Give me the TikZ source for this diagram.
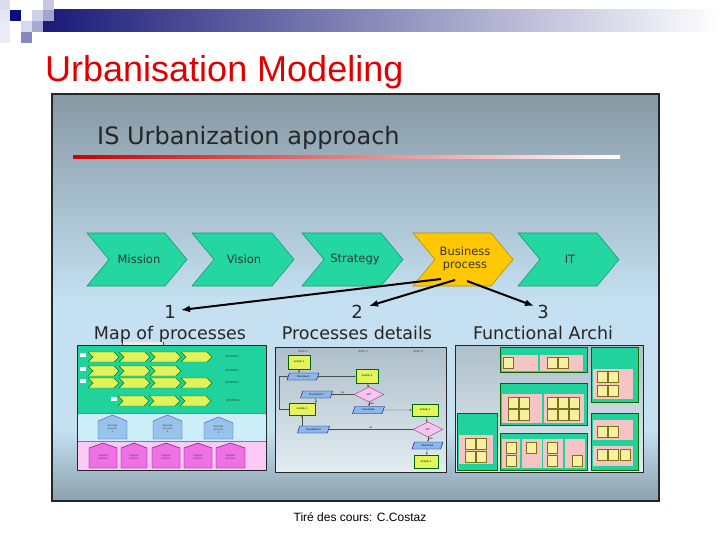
\documentclass[tikz,border=0pt]{standalone}
\usepackage{fontspec}
\setmainfont{Liberation Sans}
\newfontfamily\vfont{DejaVu Sans}
\usetikzlibrary{shapes.geometric,arrows.meta}
\definecolor{navyH}{HTML}{1A1A78}
\definecolor{titlered}{HTML}{E00000}
\definecolor{bgtop}{HTML}{8798A4}
\definecolor{bgmid}{HTML}{C4E0F1}
\definecolor{bgbot}{HTML}{8CA1AC}
\definecolor{chevgreen}{HTML}{24D6A0}
\definecolor{chevgreenD}{HTML}{16997A}
\definecolor{chevyel}{HTML}{FFC800}
\definecolor{chevyelD}{HTML}{B88C00}
\definecolor{mapgreen}{HTML}{20D29B}
\definecolor{mapblue}{HTML}{CBEEF8}
\definecolor{mappink}{HTML}{F8CAF4}
\definecolor{limechev}{HTML}{E2F25A}
\definecolor{steerblue}{HTML}{98C4EC}
\definecolor{supmag}{HTML}{F070E6}
\definecolor{actyel}{HTML}{E4F55A}
\definecolor{docblue}{HTML}{8CB8E8}
\definecolor{decpink}{HTML}{F8C4F2}
\definecolor{fapink}{HTML}{F6C4C4}
\definecolor{fayel}{HTML}{F8F0A0}
\definecolor{thumbtop}{HTML}{AEBFCB}
\definecolor{thumbbot}{HTML}{E2ECF1}
\definecolor{sqa}{HTML}{DCDCEE}
\definecolor{sqb}{HTML}{E6E6F4}
\definecolor{sqc}{HTML}{ECECF6}
\definecolor{sqd}{HTML}{0C0C80}
\definecolor{sqe}{HTML}{D0D0EA}
\definecolor{sqf}{HTML}{C8C8E4}
\definecolor{sqg}{HTML}{A4A4D0}
\definecolor{sqh}{HTML}{D8D8EE}
\definecolor{sqi}{HTML}{A8A8D4}
\definecolor{sqj}{HTML}{8888C0}
\newcommand\mychev[6]{%
  \filldraw[#1] ({#2},{#3}) -- ({#2+#4-#6},{#3}) -- ({#2+#4},{#3+#5/2}) -- ({#2+#4-#6},{#3+#5}) -- ({#2},{#3+#5}) -- ({#2+#6},{#3+#5/2}) -- cycle;}
\newcommand\myhouse[6]{%
  \filldraw[#1] ({#2},{#3+#6}) -- ({#2+#4/2},{#3}) -- ({#2+#4},{#3+#6}) -- ({#2+#4},{#3+#5}) -- ({#2},{#3+#5}) -- cycle;}
\newcommand\ysq[2]{\filldraw[ysqs] ({#1},{#2}) rectangle ++(10,11);}
\begin{document}
\begin{tikzpicture}[x=1pt,y=-1pt,
  bigchev/.style={fill=chevgreen,draw=chevgreenD,line width=0.6pt},
  yelchev/.style={fill=chevyel,draw=chevyelD,line width=0.6pt},
  chevtext/.style={font=\vfont\fontsize{11.5}{13}\selectfont,text=black!80,align=center,inner sep=0},
  bigtext/.style={font=\vfont\fontsize{17.5}{20}\selectfont,text=black!85,inner sep=0},
  numtext/.style={font=\vfont\fontsize{18}{20}\selectfont,text=black!85,inner sep=0},
  bigarrow/.style={line width=2pt,-{Latex[length=9pt,width=7pt]}},
  thumb/.style={draw=black!85,line width=0.9pt},
  lime/.style={fill=limechev,draw=green!50!black,line width=0.4pt},
  steer/.style={fill=steerblue,draw=blue!40!gray,line width=0.4pt},
  supp/.style={fill=supmag,draw=violet!70!black,line width=0.4pt},
  tiny/.style={font=\fontsize{2.6}{3}\selectfont,inner sep=0,align=center,text=black!75},
  act/.style={draw=green!40!black,fill=actyel,minimum width=22pt,minimum height=14pt,inner sep=0,line width=0.4pt,font=\fontsize{2.6}{3}\selectfont},
  doc/.style={trapezium,trapezium left angle=60,trapezium right angle=120,trapezium stretches=true,draw=blue!50!black,fill=docblue,minimum width=32pt,minimum height=7pt,inner sep=0,line width=0.4pt,font=\fontsize{2.6}{3}\selectfont},
  dec/.style={diamond,draw=magenta!60!black,fill=decpink,minimum width=30pt,minimum height=15pt,inner sep=0,line width=0.4pt,font=\fontsize{2.6}{3}\selectfont},
  flow/.style={draw=black!70,line width=0.4pt,-{Latex[length=2pt,width=2pt]}},
  lbl/.style={font=\fontsize{2.6}{3}\selectfont,inner sep=0.5pt},
  fagreen/.style={fill=mapgreen,draw=green!40!black,line width=0.4pt},
  fapinks/.style={fill=fapink,draw=none},
  ysqs/.style={fill=fayel,draw=olive!80!black,line width=0.4pt}]
\useasboundingbox (0,0) rectangle (720,540);
\fill[white] (0,0) rectangle (720,540);
% header decoration
\shade[left color=navyH,right color=white] (43,10) rectangle (720,32);
\fill[sqa] (0,0) rectangle (10,10);
\fill[sqb] (0,10) rectangle (10,21);
\fill[sqc] (0,21) rectangle (10,43);
\fill[sqd] (10,10) rectangle (21,21);
\fill[sqe] (32,10) rectangle (43,21);
\fill[sqf] (43,0) rectangle (54,10);
\fill[sqg] (43,10) rectangle (54,21);
\fill[sqh] (21,21) rectangle (32,32);
\fill[sqi] (32,21) rectangle (43,32);
\fill[sqj] (21,32) rectangle (32,43);
\node[anchor=base west,text=titlered,font=\fontsize{36}{36}\selectfont,inner sep=0] (title) at (45,82) {Urbanisation Modeling};
% frame background
\shade[top color=bgtop,bottom color=bgmid] (52,94) rectangle (659,300);
\fill[bgmid] (52,299.5) rectangle (659,430.5);
\shade[top color=bgmid,bottom color=bgbot] (52,430) rectangle (659,501);
\draw[line width=1.2pt,black!85] (52,94) rectangle (659,501);
\node[anchor=base west,font=\vfont\fontsize{24}{24}\selectfont,text=black!85,inner sep=0] (istitle) at (97,145) {IS Urbanization approach};
\shade[left color=red!80!black,right color=white] (73,155.5) rectangle (620,159);
% chevrons
\mychev{bigchev}{87}{233}{100}{53}{22}
\mychev{bigchev}{192}{233}{102}{53}{22}
\mychev{bigchev}{302}{233}{101}{53}{22}
\mychev{yelchev}{413}{233}{100}{53}{22}
\mychev{bigchev}{518}{233}{101}{53}{22}
\node[chevtext] (mission) at (139,259) {Mission};
\node[chevtext] (vision) at (244,259) {Vision};
\node[chevtext] (strategy) at (355,259) {Strategy};
\node[chevtext] (business) at (465,259) {Business\\process};
\node[chevtext] (it) at (570,259) {IT};
% numbers and captions
\node[numtext,anchor=base] (one) at (170,318) {1};
\node[numtext,anchor=base] (two) at (357,318) {2};
\node[numtext,anchor=base] (three) at (543,318) {3};
\node[bigtext,anchor=base] (mapcap) at (170,339) {Map of processes};
\node[bigtext,anchor=base] (detcap) at (357,339) {Processes details};
\node[bigtext,anchor=base] (funcap) at (543,339) {Functional Archi};
\coordinate (s1) at (441,279);
\coordinate (s2) at (455,280);
\coordinate (s3) at (467,281);
\coordinate (e1) at (181,310);
\coordinate (e2) at (369,306);
\coordinate (e3) at (534,306);
\draw[bigarrow] (s1) -- (e1);
\draw[bigarrow] (s2) -- (e2);
\draw[bigarrow] (s3) -- (e3);
% ---------- thumbnail 1: map of processes
\fill[white!85!gray] (122,341.5) rectangle (163,345);
\draw[black!70,line width=0.5pt] (122,341.5) -- (122,345) (163,341.5) -- (163,345);
\fill[mapgreen] (77,345) rectangle (266,413);
\fill[mapblue] (77,413) rectangle (266,441);
\fill[mappink] (77,441) rectangle (266,470);
\draw[gray,line width=0.4pt] (77,413) -- (266,413) (77,441) -- (266,441);
\draw[thumb] (77,345) rectangle (266,470);
\foreach \y/\n in {352/4,366/3,378/4}{
  \fill[white] (80,{\y+1}) rectangle (86,{\y+5});
  \foreach \k in {1,...,\n}{\mychev{lime}{88+31*(\k-1)}{\y}{31}{10}{5}}
}
\fill[white] (111,397) rectangle (117,401);
\foreach \k in {1,2,3}{\mychev{lime}{118+31*(\k-1)}{396}{31}{10}{5}}
\node[tiny,font=\fontsize{3.6}{4}\selectfont] (p1) at (232,357) {process};
\node[tiny,font=\fontsize{3.6}{4}\selectfont] (p2) at (232,371) {process};
\node[tiny,font=\fontsize{3.6}{4}\selectfont] (p3) at (232,383) {process};
\node[tiny,font=\fontsize{3.6}{4}\selectfont] (p4) at (233,401) {process};
\myhouse{steer}{98}{415}{29}{24}{6}
\myhouse{steer}{153}{415}{29}{24}{6}
\myhouse{steer}{204}{417}{29}{22}{6}
\node[tiny] (st1) at (112.5,429) {Steering\\process\\1};
\node[tiny] (st2) at (167.5,429) {Steering\\process\\2};
\node[tiny] (st3) at (218.5,430) {Steering\\process\\3};
\foreach \x/\w in {89/28,121/26,152/28,184/28,216/29}{
  \myhouse{supp}{\x}{443}{\w}{25}{5}
  \node[tiny] at ({\x+\w/2},457) {Support\\process};
}
% ---------- thumbnail 2: processes details
\shade[top color=thumbtop,bottom color=thumbbot] (275,347) rectangle (446,472);
\draw[thumb] (275,347) rectangle (446,472);
\node[tiny,font=\itshape\fontsize{3}{3}\selectfont] (ac1) at (303,351) {Actor 1};
\node[tiny,font=\itshape\fontsize{3}{3}\selectfont] (ac2) at (363,351) {Actor 2};
\node[tiny,font=\itshape\fontsize{3}{3}\selectfont] (ac3) at (418,351) {Actor 3};
\node[act] (a1) at (299,362) {Activity 1};
\node[doc] (d1) at (303,376.5) {Document};
\node[act] (a2) at (367,376) {Activity 2};
\node[dec] (q1) at (369,394.5) {ok?};
\node[doc] (d2) at (316.5,394.5) {Document 2};
\node[act,minimum width=26pt,minimum height=12pt] (a3) at (302,409) {Activity 3};
\node[doc] (d3) at (368.5,410) {Document};
\node[act,minimum width=26pt,minimum height=12pt] (a4) at (425,410) {Activity 4};
\node[dec] (q2) at (428,429.5) {ok?};
\node[doc] (d4) at (313.5,429.5) {Document 3};
\node[doc,minimum width=31pt] (d5) at (427.5,445.5) {Document};
\node[act,minimum width=24pt,minimum height=13pt] (a5) at (426,461.5) {Activity 5};
\draw[flow] (a1.south) -- (a1.south |- d1.north);
\draw[flow] (d1.east) -- (a2.west |- d1.east);
\draw[flow] (a2) -- (q1);
\draw[flow] (q1.west) -- node[above,lbl] {no} (d2.east);
\draw[flow] (d2.south -| a3.north east) -- (a3.north east -| d2.south);
\draw[flow] (a3.west) -- ++(-10,0) |- (d1.west);
\draw[flow] (q1.south) -- node[right,lbl] {yes} (d3.north -| q1.south);
\draw[flow] (d3.east) -- (a4.west);
\draw[flow] (a4) -- (q2);
\draw[flow] (q2.west) -- node[above,lbl] {no} (d4.east);
\draw[flow] (d4.north -| a3.south) -- (a3.south);
\draw[flow] (q2.south) -- node[right,lbl] {yes} (d5.north -| q2.south);
\draw[flow] (d5) -- (a5);
% ---------- thumbnail 3: functional architecture
\shade[top color=thumbtop,bottom color=thumbbot] (455,345) rectangle (643,472);
\draw[thumb] (455,345) rectangle (643,472);
\filldraw[fagreen] (500,347) rectangle (587,372);
\fill[fapinks] (502,355) rectangle (538,371);
\fill[fapinks] (540,355) rectangle (583,371);
\ysq{503}{357}\ysq{547}{357}\ysq{558}{357}
\filldraw[fagreen] (591,347) rectangle (638,402);
\fill[fapinks] (593,369) rectangle (633,399);
\ysq{597}{371}\ysq{608}{371}\ysq{597}{385}\ysq{608}{385}
\filldraw[fagreen] (500,383) rectangle (587,425);
\fill[fapinks] (502,394) rectangle (542,423);
\fill[fapinks] (544,394) rectangle (584,423);
\ysq{508}{397}\ysq{519}{397}\ysq{508}{409}\ysq{519}{409}
\ysq{547}{397}\ysq{558}{397}\ysq{569}{397}
\ysq{547}{409}\ysq{558}{409}\ysq{569}{409}
\filldraw[fagreen] (457,413) rectangle (497,470);
\fill[fapinks] (459,435) rectangle (493,464);
\ysq{465}{438}\ysq{476}{438}\ysq{465}{451}\ysq{476}{451}
\filldraw[fagreen] (500,433) rectangle (587,470);
\fill[fapinks] (502,439) rectangle (520,468);
\fill[fapinks] (522,439) rectangle (542,468);
\fill[fapinks] (543,439) rectangle (563,468);
\fill[fapinks] (565,439) rectangle (585,468);
\ysq{506}{442}\ysq{506}{455}\ysq{526}{442}\ysq{547}{442}\ysq{547}{455}\ysq{572}{455}
\filldraw[fagreen] (591,413) rectangle (638,470);
\fill[fapinks] (593,420) rectangle (633,440);
\fill[fapinks] (593,446) rectangle (633,466);
\ysq{597}{426}\ysq{608}{426}\ysq{597}{449}\ysq{608}{449}\ysq{620}{449}
% footer
\node[font=\fontsize{12}{12}\selectfont,text=black] (credit) at (360,517) {Tiré des cours: C.Costaz};
\end{tikzpicture}
\end{document}
